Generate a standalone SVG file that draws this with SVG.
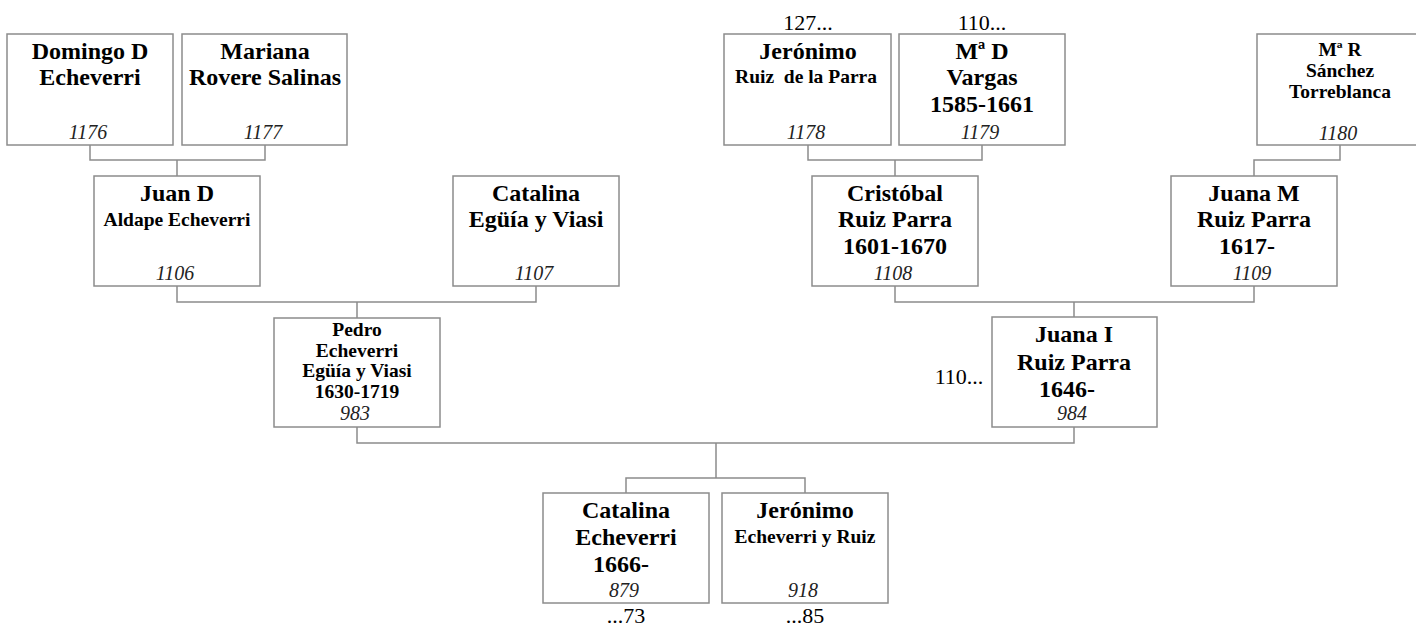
<svg xmlns="http://www.w3.org/2000/svg" width="1416" height="626" viewBox="0 0 1416 626">
<style>
.box{fill:#fff;stroke:#8c8c8c;stroke-width:1.5}
.con{fill:none;stroke:#8c8c8c;stroke-width:1.5}
text{font-family:"Liberation Serif","Times New Roman",serif;fill:#000;text-anchor:middle}
.b{font-weight:bold;font-size:24px}
.s{font-weight:bold;font-size:19.5px}
.n{font-style:italic;font-size:20px;fill:#222}
.r{font-size:22px}
</style>
<rect width="1416" height="626" fill="#fff"/>
<g id="connectors">
<path class="con" d="M90,145V160H265V145M177,160V176"/>
<path class="con" d="M808,145V160H982V145M895,160V176"/>
<path class="con" d="M1340,145V160H1254V176"/>
<path class="con" d="M177,286V302H536V286M357,302V318"/>
<path class="con" d="M895,286V302H1254V286M1074,302V317"/>
<path class="con" d="M357,427V443H1074V427M716,443V478M626,493V478H805V493"/>
</g>
<g id="n1176">
<rect class="box" x="7" y="34" width="166" height="111"/>
<text class="b" x="90" y="59">Domingo D</text>
<text class="b" x="90" y="85">Echeverri</text>
<text class="n" x="88" y="139">1176</text>
</g>
<g id="n1177">
<rect class="box" x="182" y="34" width="165" height="111"/>
<text class="b" x="265" y="59">Mariana</text>
<text class="b" x="265" y="85">Rovere Salinas</text>
<text class="n" x="263" y="139">1177</text>
</g>
<g id="n1178">
<text class="r" x="808" y="30">127...</text>
<rect class="box" x="724" y="34" width="167" height="111"/>
<text class="b" x="808" y="59">Jerónimo</text>
<text class="s" x="806" y="83" xml:space="preserve">Ruiz  de la Parra</text>
<text class="n" x="806" y="139">1178</text>
</g>
<g id="n1179">
<text class="r" x="982" y="30">110...</text>
<rect class="box" x="899" y="34" width="166" height="111"/>
<text class="b" x="982" y="59">Mª D</text>
<text class="b" x="982" y="85">Vargas</text>
<text class="b" x="982" y="112">1585-1661</text>
<text class="n" x="980" y="139">1179</text>
</g>
<g id="n1180">
<rect class="box" x="1257" y="34" width="166" height="111"/>
<text class="s" x="1340" y="56">Mª R</text>
<text class="s" x="1340" y="77">Sánchez</text>
<text class="s" x="1340" y="98">Torreblanca</text>
<text class="n" x="1338" y="140">1180</text>
</g>
<g id="n1106">
<rect class="box" x="94" y="176" width="166" height="110"/>
<text class="b" x="177" y="201">Juan D</text>
<text class="s" x="177" y="226">Aldape Echeverri</text>
<text class="n" x="175" y="280">1106</text>
</g>
<g id="n1107">
<rect class="box" x="453" y="176" width="166" height="110"/>
<text class="b" x="536" y="201">Catalina</text>
<text class="b" x="536" y="227">Egüía y Viasi</text>
<text class="n" x="534" y="280">1107</text>
</g>
<g id="n1108">
<rect class="box" x="812" y="176" width="166" height="110"/>
<text class="b" x="895" y="201">Cristóbal</text>
<text class="b" x="895" y="227">Ruiz Parra</text>
<text class="b" x="895" y="254">1601-1670</text>
<text class="n" x="893" y="280">1108</text>
</g>
<g id="n1109">
<rect class="box" x="1171" y="176" width="166" height="110"/>
<text class="b" x="1254" y="201">Juana M</text>
<text class="b" x="1254" y="227">Ruiz Parra</text>
<text class="b" x="1247" y="254">1617-</text>
<text class="n" x="1252" y="280">1109</text>
</g>
<g id="n983">
<rect class="box" x="274" y="318" width="166" height="109"/>
<text class="s" x="357" y="336">Pedro</text>
<text class="s" x="357" y="357">Echeverri</text>
<text class="s" x="357" y="377">Egüía y Viasi</text>
<text class="s" x="357" y="398">1630-1719</text>
<text class="n" x="355" y="420">983</text>
</g>
<g id="n984">
<text class="r" x="959" y="384">110...</text>
<rect class="box" x="992" y="317" width="165" height="110"/>
<text class="b" x="1074" y="342">Juana I</text>
<text class="b" x="1074" y="370">Ruiz Parra</text>
<text class="b" x="1067" y="397">1646-</text>
<text class="n" x="1072" y="420">984</text>
</g>
<g id="n879">
<rect class="box" x="543" y="493" width="166" height="110"/>
<text class="b" x="626" y="518">Catalina</text>
<text class="b" x="626" y="545">Echeverri</text>
<text class="b" x="621" y="572">1666-</text>
<text class="n" x="624" y="597">879</text>
<text class="r" x="626" y="623">...73</text>
</g>
<g id="n918">
<rect class="box" x="722" y="493" width="166" height="110"/>
<text class="b" x="805" y="518">Jerónimo</text>
<text class="s" x="805" y="543">Echeverri y Ruiz</text>
<text class="n" x="803" y="597">918</text>
<text class="r" x="805" y="623">...85</text>
</g>
</svg>
